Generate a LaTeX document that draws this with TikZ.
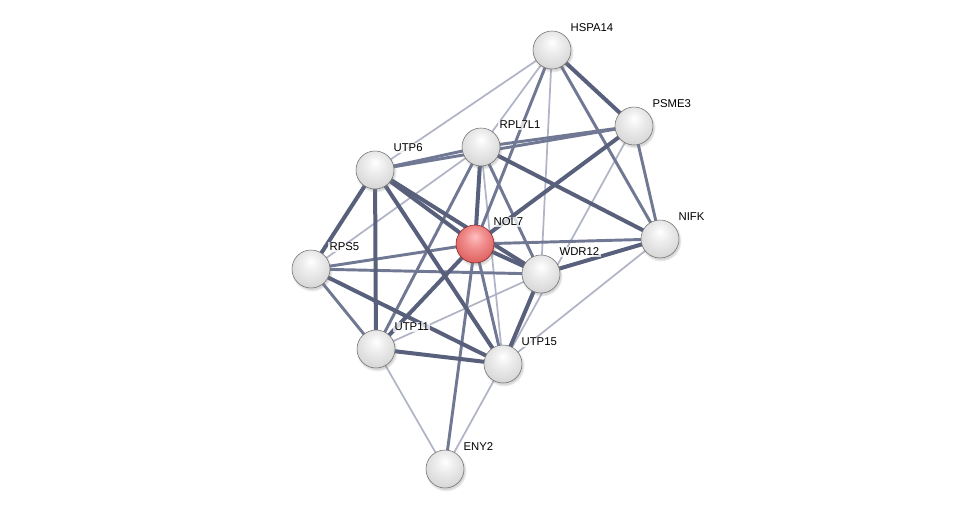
\documentclass[tikz,border=0pt]{standalone}
\usepackage{fontspec}
\setmainfont{Liberation Sans}
\definecolor{strhigh}{RGB}{88,96,124}
\definecolor{strmid}{RGB}{112,120,148}
\definecolor{strlow}{RGB}{176,180,198}
\definecolor{protrim}{RGB}{110,110,110}
\definecolor{queryrim}{RGB}{130,35,40}
\usetikzlibrary{shadows,backgrounds}
\pgfdeclareradialshading{protsphere}{\pgfpoint{0bp}{10bp}}{%
  color(0bp)=(white); color(12bp)=(white!93!black); color(28bp)=(white!85!black);
  color(40bp)=(white!76!black); color(48bp)=(white!62!black); color(54bp)=(white!48!black); color(62bp)=(white!45!black)}
\pgfdeclareradialshading{querysphere}{\pgfpoint{0bp}{10bp}}{%
  color(0bp)=(red!25!white); color(12bp)=(red!40!white!95!black); color(28bp)=(red!55!white!88!black);
  color(40bp)=(red!62!white!80!black); color(48bp)=(red!65!black!85!white); color(54bp)=(red!55!black); color(62bp)=(red!50!black)}

\begin{document}
\begin{tikzpicture}[x=0.75pt,y=-0.75pt,
  protein/.style={circle,minimum size=28.5pt,inner sep=0pt,shading=protsphere,draw=protrim,line width=0.4pt,
    circular drop shadow={shadow xshift=0.6pt,shadow yshift=-1.2pt,opacity=0.35}},
  query/.style={protein,shading=querysphere,draw=queryrim},
  plabel/.style={anchor=west,font=\fontsize{8.5}{10}\selectfont,fill=white,fill opacity=0.75,text opacity=1,inner sep=1pt},
  high/.style={strhigh,line width=3pt},
  mid/.style={strmid,line width=2.2pt},
  low/.style={strlow,line width=1.3pt}]
  \useasboundingbox (0,0) rectangle (976,514);
  % Proteins
  \node[protein] (hspa14) at (552,50) {};
  \node[protein] (psme3) at (634,126) {};
  \node[protein] (rpl7l1) at (481,147) {};
  \node[protein] (utp6) at (375,170) {};
  \node[query] (nol7) at (475,244) {};
  \node[protein] (nifk) at (660,239) {};
  \node[protein] (wdr12) at (541,274) {};
  \node[protein] (rps5) at (311,269) {};
  \node[protein] (utp11) at (376,349) {};
  \node[protein] (utp15) at (503,364) {};
  \node[protein] (eny2) at (445,469) {};
  % Labels
  \node[plabel] (hspa14l) at ([shift={(17,-22)}]hspa14.center) {HSPA14};
  \node[plabel] (psme3l) at ([shift={(17,-22)}]psme3.center) {PSME3};
  \node[plabel] (rpl7l1l) at ([shift={(17,-22)}]rpl7l1.center) {RPL7L1};
  \node[plabel] (utp6l) at ([shift={(17,-22)}]utp6.center) {UTP6};
  \node[plabel] (nol7l) at ([shift={(17,-22)}]nol7.center) {NOL7};
  \node[plabel] (nifkl) at ([shift={(17,-22)}]nifk.center) {NIFK};
  \node[plabel] (wdr12l) at ([shift={(17,-22)}]wdr12.center) {WDR12};
  \node[plabel] (rps5l) at ([shift={(17,-22)}]rps5.center) {RPS5};
  \node[plabel] (utp11l) at ([shift={(17,-22)}]utp11.center) {UTP11};
  \node[plabel] (utp15l) at ([shift={(17,-22)}]utp15.center) {UTP15};
  \node[plabel] (eny2l) at ([shift={(17,-22)}]eny2.center) {ENY2};
  \begin{pgfonlayer}{background}
    % Weak links
    \draw[low] (hspa14.center) -- (utp6.center);
    \draw[low] (hspa14.center) -- (rpl7l1.center);
    \draw[low] (hspa14.center) -- (wdr12.center);
    \draw[low] (psme3.center) -- (utp15.center);
    \draw[low] (rpl7l1.center) -- (rps5.center);
    \draw[low] (rpl7l1.center) -- (utp15.center);
    \draw[low] (utp11.center) -- (wdr12.center);
    \draw[low] (nifk.center) -- (utp15.center);
    \draw[low] (utp11.center) -- (eny2.center);
    \draw[low] (utp15.center) -- (eny2.center);
    % Medium links
    \draw[mid] (hspa14.center) -- (nifk.center);
    \draw[mid] (hspa14.center) -- (nol7.center);
    \draw[mid] (psme3.center) -- (nifk.center);
    \draw[mid] (psme3.center) -- (rpl7l1.center);
    \draw[mid] (utp6.center) -- (rpl7l1.center);
    \draw[mid] (utp6.center) -- (psme3.center);
    \draw[mid] (rpl7l1.center) -- (wdr12.center);
    \draw[mid] (rpl7l1.center) -- (utp11.center);
    \draw[mid] (rps5.center) -- (nol7.center);
    \draw[mid] (rps5.center) -- (wdr12.center);
    \draw[mid] (rps5.center) -- (utp11.center);
    \draw[mid] (nol7.center) -- (nifk.center);
    \draw[mid] (nol7.center) -- (utp15.center);
    \draw[mid] (nol7.center) -- (eny2.center);
    % Strong links
    \draw[high] (hspa14.center) -- (psme3.center);
    \draw[high] (psme3.center) -- (nol7.center);
    \draw[high] (rpl7l1.center) -- (nol7.center);
    \draw[high] (rpl7l1.center) -- (nifk.center);
    \draw[high] (utp6.center) -- (nol7.center);
    \draw[high] (utp6.center) -- (wdr12.center);
    \draw[high] (utp6.center) -- (utp11.center);
    \draw[high] (utp6.center) -- (utp15.center);
    \draw[high] (utp6.center) -- (rps5.center);
    \draw[high] (rps5.center) -- (utp15.center);
    \draw[high] (utp11.center) -- (utp15.center);
    \draw[high] (utp11.center) -- (nol7.center);
    \draw[high] (nol7.center) -- (wdr12.center);
    \draw[high] (wdr12.center) -- (utp15.center);
    \draw[high] (wdr12.center) -- (nifk.center);
  \end{pgfonlayer}
\end{tikzpicture}
\end{document}
